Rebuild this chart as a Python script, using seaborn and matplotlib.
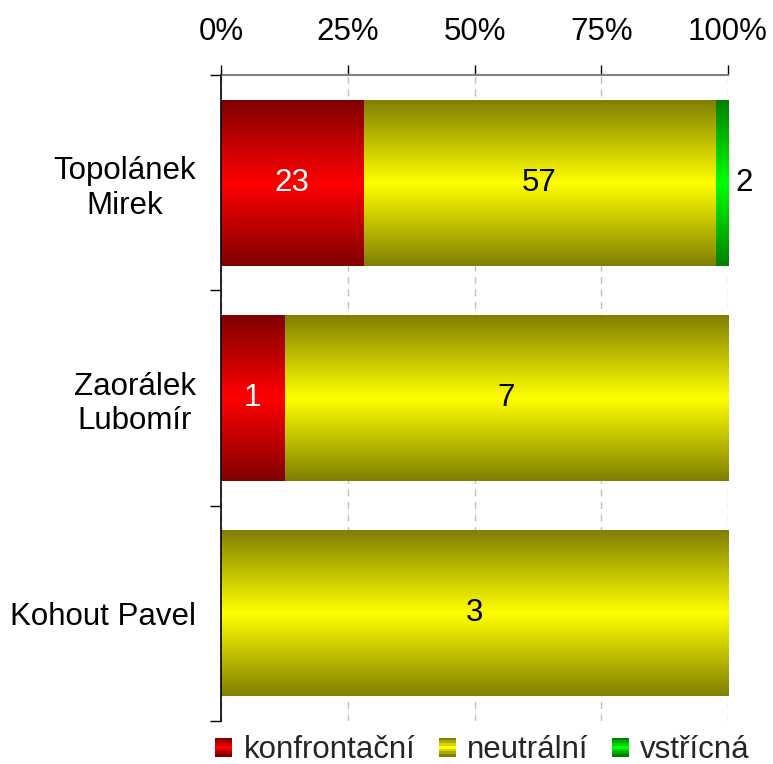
import numpy as np
import pandas as pd
import matplotlib
matplotlib.use("Agg")
import matplotlib.pyplot as plt
import seaborn as sns
from matplotlib.colors import to_rgb
from matplotlib.patches import Rectangle
from matplotlib.legend_handler import HandlerBase

# Counts of statements by tone for each politician
politicians = ["Topolánek\nMirek", "Zaorálek\nLubomír", "Kohout Pavel"]
confrontational = [23, 1, 0]
neutral = [57, 7, 3]
friendly = [2, 0, 0]
tone_labels = ["konfrontační", "neutrální", "vstřícná"]
tone_colors = ["#ff0000", "#ffff00", "#00ff00"]
x_ticks = [0, 25, 50, 75, 100]

sns.set_theme(style="white")
plt.rcParams["font.family"] = ["Liberation Sans", "DejaVu Sans"]
FS = 22.5


def gradient_rgb(color, n=256):
    """Vertical gradient: dark at the edges, full colour in the middle."""
    bright = np.array(to_rgb(color))
    dark = bright * 0.5
    t = np.linspace(0, 1, n)
    w = 1 - np.abs(2 * t - 1)
    return dark[None, :] + (bright - dark)[None, :] * w[:, None]


class GradientSquare(HandlerBase):
    def __init__(self, color, stripes=7):
        super().__init__()
        self.color = color
        self.stripes = stripes

    def create_artists(self, legend, orig_handle, xdescent, ydescent,
                       width, height, fontsize, trans):
        cols = gradient_rgb(self.color, self.stripes)
        x0, y0 = -xdescent, -ydescent
        h = height / self.stripes
        arts = []
        for k, c in enumerate(cols):
            arts.append(Rectangle((x0, y0 + k * h), width, h * 1.05,
                                  facecolor=c, edgecolor="none",
                                  transform=trans))
        return arts


df = pd.DataFrame({"name": politicians,
                   "c": confrontational, "n": neutral, "f": friendly})
parts = ["c", "n", "f"]
total = df[parts].sum(axis=1)
share = df[parts].div(total, axis=0) * 100
cum = share.cumsum(axis=1)

fig = plt.figure(figsize=(7.73, 7.64), dpi=100)
ax = fig.add_axes([0.2859, 0.0563, 0.6559, 0.8455])

# Stacked bars: draw cumulative shares from the outermost segment inward
layers = []
for col, color in zip(reversed(parts), reversed(tone_colors)):
    start = len(ax.patches)
    sns.barplot(x=cum[col], y=df["name"], orient="h", color=color,
                saturation=1, width=0.77, errorbar=None, ax=ax)
    layers.append((ax.patches[start:], color))

# Replace flat fills with gradient images in the same geometry
for z, (patches, color) in enumerate(layers):
    img = gradient_rgb(color)[:, None, :]
    for p in patches:
        bb = p.get_bbox()
        p.set_visible(False)
        if bb.width <= 0:
            continue
        ax.imshow(img, extent=(bb.x0, bb.x1, bb.y0, bb.y1), aspect="auto",
                  interpolation="bilinear", zorder=2 + z)

ax.set_xlim(0, 100)
ax.set_ylim(2.5, -0.5)
ax.set_xlabel("")
ax.set_ylabel("")

# Value labels
for i in range(len(df)):
    left = 0.0
    for j, col in enumerate(parts):
        v = df.loc[i, col]
        w = share.loc[i, col]
        if v > 0:
            txt_color = "white" if j == 0 else "black"
            if w < 5:
                ax.annotate(str(v), xy=(left + w, i), xytext=(5, 0),
                            textcoords="offset points", ha="left",
                            va="center", fontsize=FS, color="black",
                            zorder=10, annotation_clip=False)
            else:
                ax.text(left + w / 2, i, str(v), ha="center", va="center",
                        fontsize=FS, color=txt_color, zorder=10)
        left += w

# Axes styling
ax.xaxis.tick_top()
ax.set_xticks(x_ticks)
ax.set_xticklabels([f"{t}%" for t in x_ticks])
ax.tick_params(axis="x", which="major", top=True, bottom=False,
               direction="out", length=7.5, width=1, color="black",
               pad=12.5, labelsize=FS, labelcolor="black")
ax.set_yticks(range(len(politicians)))
ax.set_yticklabels(politicians, multialignment="center")
ax.set_yticks([-0.5, 0.5, 1.5, 2.5], minor=True)
ax.tick_params(axis="y", which="major", left=False, length=0, pad=18,
               labelsize=FS, labelcolor="black")
ax.tick_params(axis="y", which="minor", left=True, direction="out",
               length=8, width=1, color="black")

for s in ("right", "bottom"):
    ax.spines[s].set_visible(False)
ax.spines["top"].set_color("#808080")
ax.spines["top"].set_linewidth(1.5)
ax.spines["left"].set_color("black")
ax.spines["left"].set_linewidth(1.2)
ax.spines["left"].set_zorder(20)

ax.xaxis.grid(True, linestyle=(0, (5, 4)), color="#c0c0c0", linewidth=1)
ax.yaxis.grid(False)
ax.set_axisbelow(True)

# Legend with gradient squares
handles = [Rectangle((0, 0), 1, 1, facecolor=c) for c in tone_colors]
hmap = {h: GradientSquare(c) for h, c in zip(handles, tone_colors)}
fig.legend(handles, tone_labels, handler_map=hmap, loc="center",
           bbox_to_anchor=(0.624, 0.018), ncol=3, frameon=False,
           fontsize=FS, handlelength=0.55, handleheight=0.55,
           handletextpad=0.35, columnspacing=0.75, borderpad=0,
           borderaxespad=0)

fig.savefig("out.png", dpi=100)
